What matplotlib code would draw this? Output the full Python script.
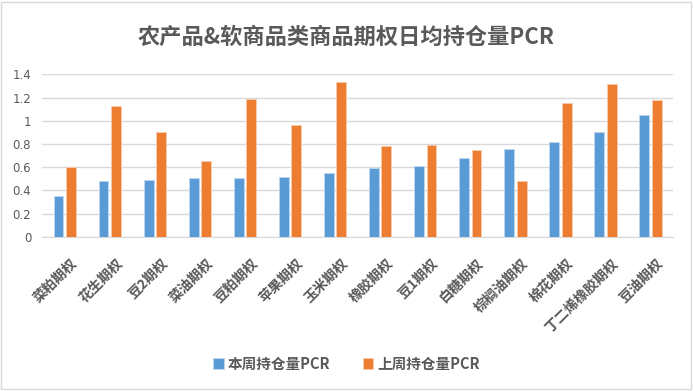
import matplotlib
matplotlib.use('Agg')
import matplotlib.pyplot as plt
import matplotlib.transforms as mtransforms
import numpy as np
from matplotlib.patches import Rectangle

plt.rcParams['font.family'] = ['Noto Sans CJK SC', 'DejaVu Sans']
plt.rcParams['axes.unicode_minus'] = False

# 数据
categories = ["菜粕期权", "花生期权", "豆2期权", "菜油期权", "豆粕期权", "苹果期权", "玉米期权",
              "橡胶期权", "豆1期权", "白糖期权", "棕榈油期权", "棉花期权", "丁二烯橡胶期权", "豆油期权"]
this_week = [0.35, 0.48, 0.49, 0.51, 0.51, 0.52, 0.55, 0.59, 0.61, 0.68, 0.76, 0.82, 0.90, 1.05]
last_week = [0.60, 1.13, 0.90, 0.65, 1.19, 0.96, 1.33, 0.78, 0.79, 0.75, 0.48, 1.15, 1.32, 1.18]
series_names = ["本周持仓量PCR", "上周持仓量PCR"]
yticks = [0, 0.2, 0.4, 0.6, 0.8, 1.0, 1.2, 1.4]
ytick_labels = ["0", "0.2", "0.4", "0.6", "0.8", "1", "1.2", "1.4"]

blue = "#5B9BD5"
orange = "#ED7D31"
gray = "#595959"

fig = plt.figure(figsize=(6.93, 3.91), dpi=100)
ax = fig.add_axes([0.061, 0.394, 0.910, 0.416])

x = np.arange(len(categories))
w = 0.22
ax.bar(x - 0.14, this_week, width=w, color=blue, edgecolor="#BDD7EE", linewidth=0.6,
       label=series_names[0], zorder=3)
ax.bar(x + 0.14, last_week, width=w, color=orange, edgecolor="#F8CBAD", linewidth=0.6,
       label=series_names[1], zorder=3)

ax.set_xlim(-0.5, len(categories) - 0.5)
ax.set_ylim(0, 1.4)
ax.set_yticks(yticks)
ax.set_yticklabels(ytick_labels, fontsize=8.5, color=gray, family=['DejaVu Sans'])
ax.yaxis.grid(True, color="#D9D9D9", linewidth=1, zorder=0)
ax.set_axisbelow(True)
for s in ["top", "right", "left"]:
    ax.spines[s].set_visible(False)
ax.spines["bottom"].set_color("#D9D9D9")
ax.tick_params(axis="both", length=0)
ax.tick_params(axis="y", pad=8)

ax.set_xticks(x)
ax.set_xticklabels(categories, rotation=45, ha="right", rotation_mode="anchor",
                   fontsize=10, fontweight="bold", color=gray)
ax.tick_params(axis="x", pad=14)
# 标签稍微右移
shift = mtransforms.ScaledTranslation(6 / 100, 0, fig.dpi_scale_trans)
for lbl in ax.get_xticklabels():
    lbl.set_transform(lbl.get_transform() + shift)

fig.text(0.5, 0.905, "农产品&软商品类商品期权日均持仓量PCR", ha="center", va="center",
         fontsize=16, fontweight="bold", color=gray)

leg = fig.legend(loc="center", bbox_to_anchor=(0.5, 0.07), ncol=2, frameon=False,
                 handlelength=0.7, handleheight=0.7, handletextpad=0.3, columnspacing=2.2,
                 prop={"size": 10.5, "weight": "bold"})
for t in leg.get_texts():
    t.set_color(gray)

fig.patches.append(Rectangle((0.002, 0.004), 0.995, 0.99, transform=fig.transFigure,
                             fill=False, edgecolor="#D9D9D9", linewidth=1))

fig.savefig("out.png", dpi=100)
